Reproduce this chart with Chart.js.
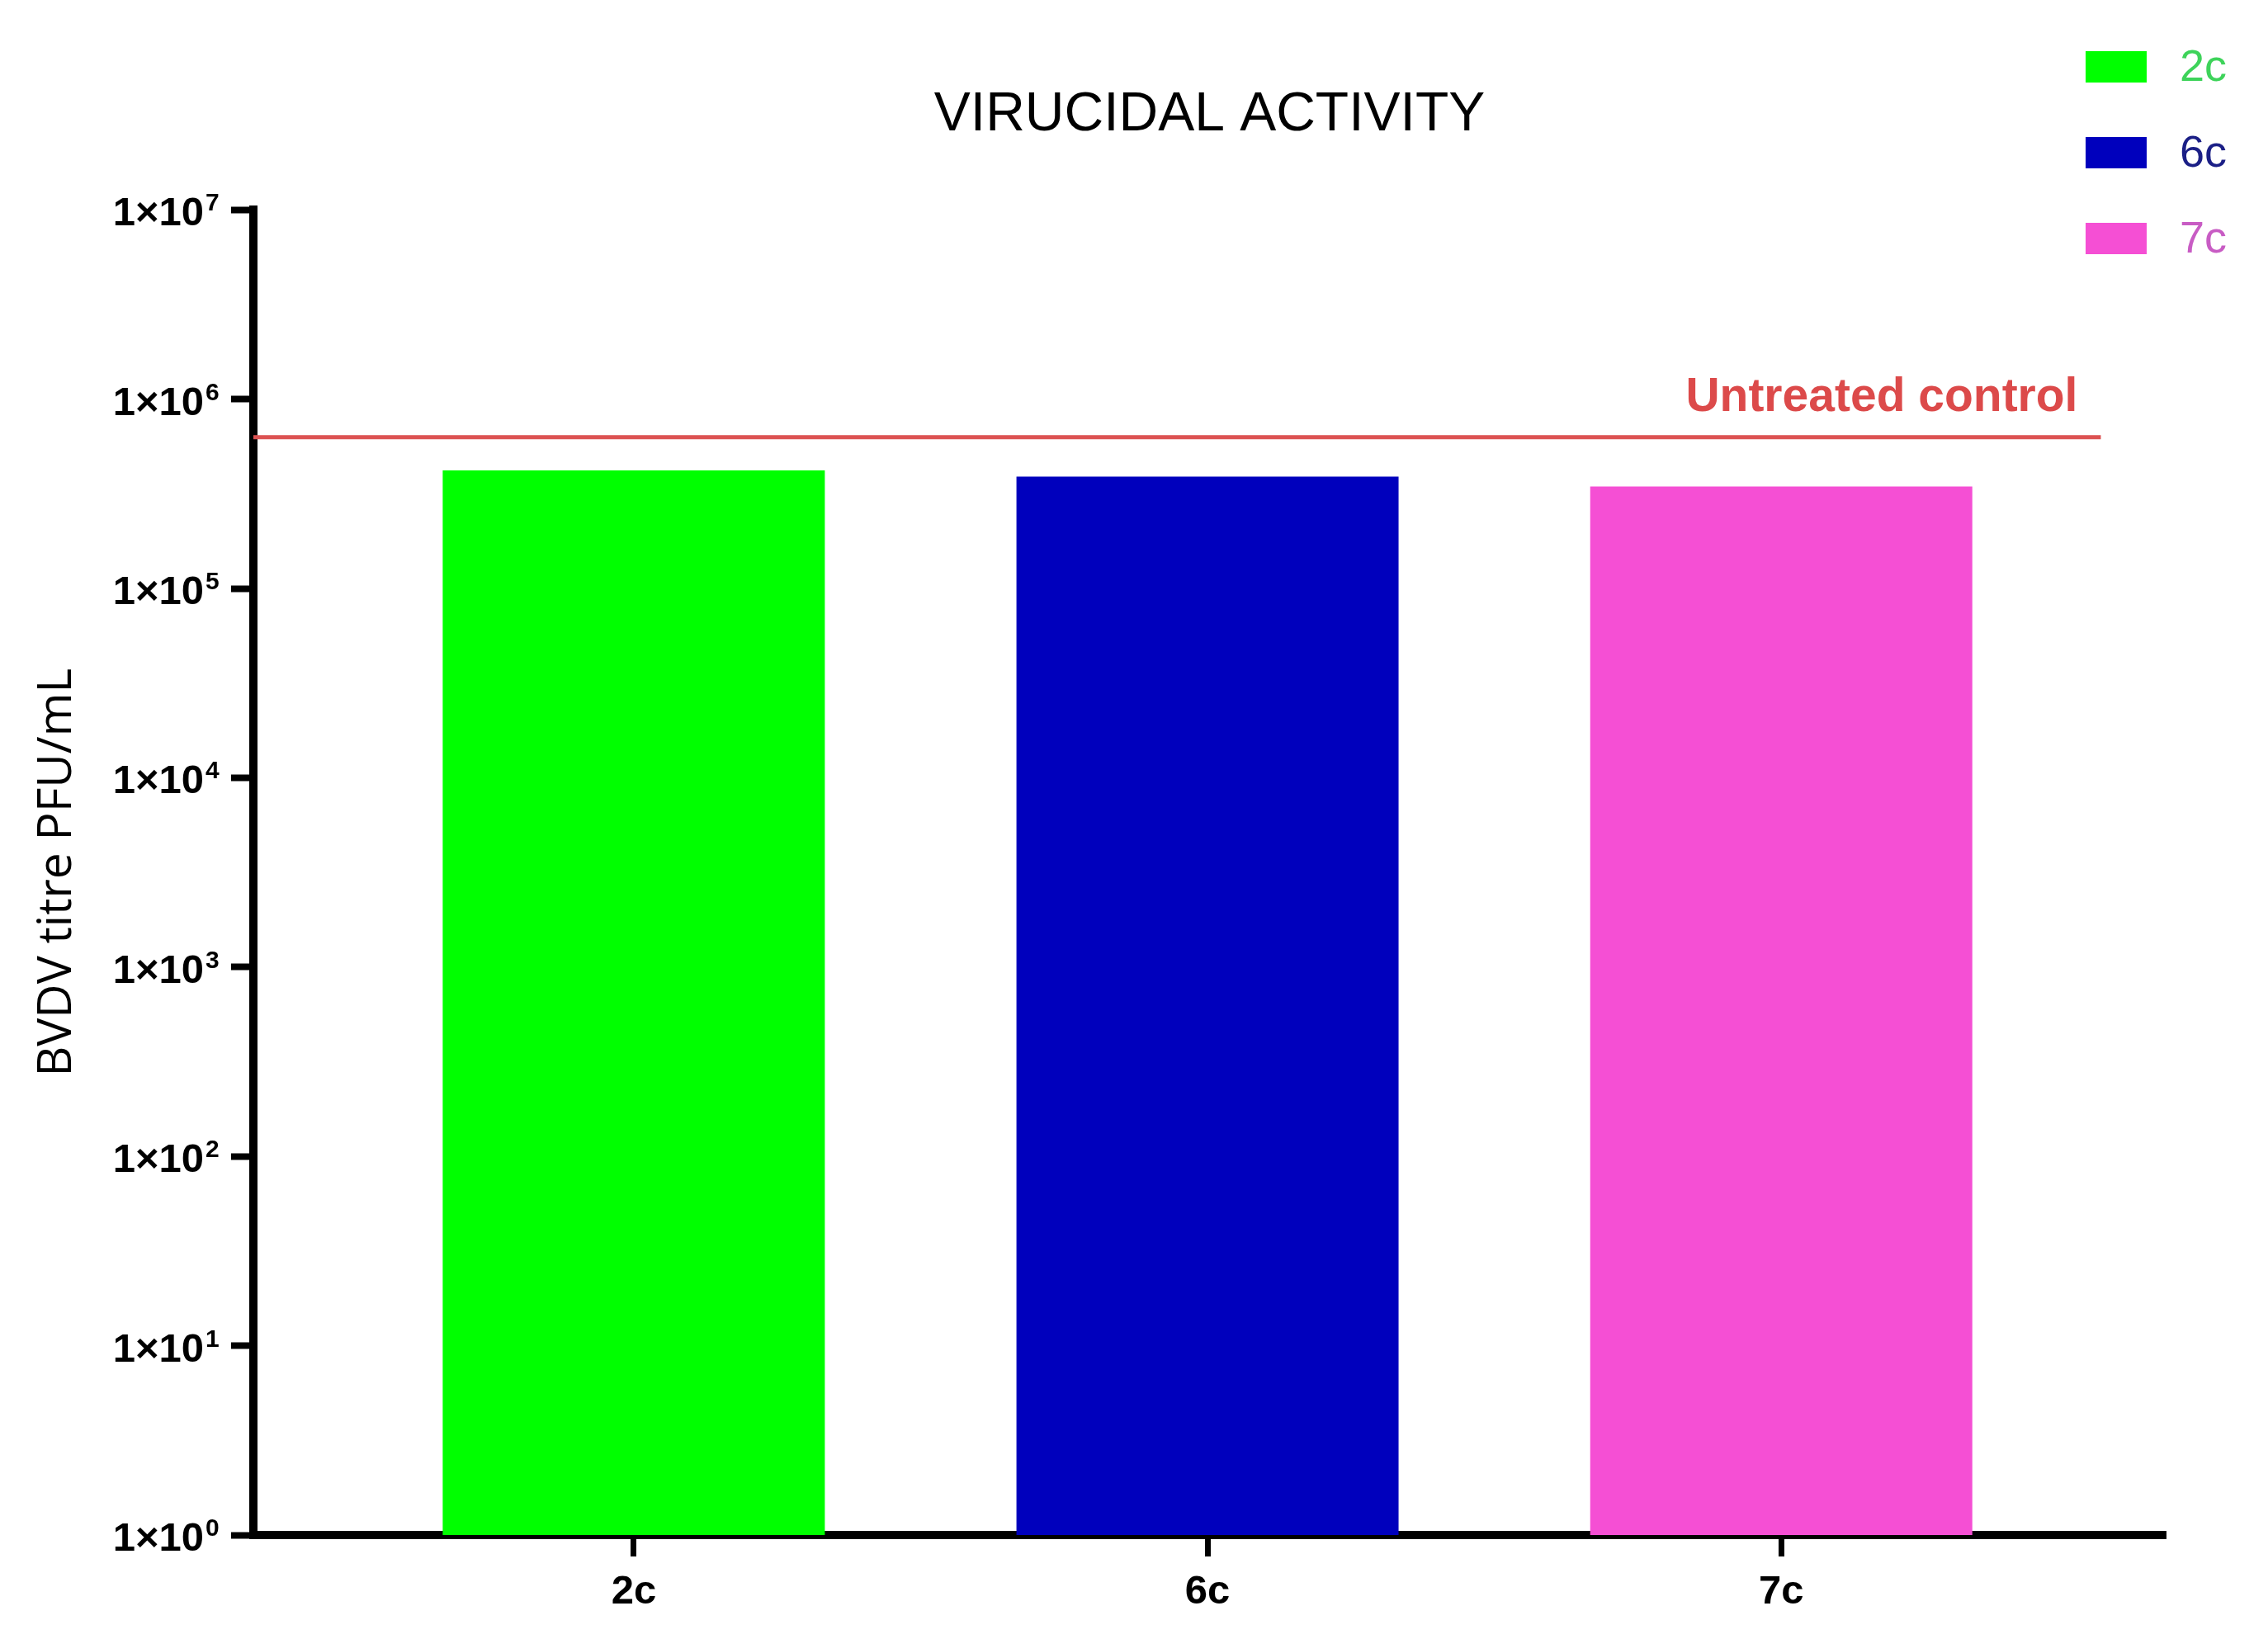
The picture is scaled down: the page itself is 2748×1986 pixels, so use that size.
<!DOCTYPE html>
<html>
<head>
<meta charset="utf-8">
<title>Virucidal activity</title>
<script src="https://cdn.jsdelivr.net/npm/chart.js@4.4.1/dist/chart.umd.min.js"></script>
<style>
    html, body { margin: 0; padding: 0; background: #fff; }
    #wrap { width: 2748px; height: 1986px; }
</style>
</head>
<body>
<div id="wrap"><canvas id="chart"></canvas></div>
<script>
// Values
const categories = ['2c', '6c', '7c'];
const titres = [4.2e5, 3.9e5, 3.45e5];
const controlTitre = 6.3e5;
const controlLabel = 'Untreated control';
const barColors = ['#00ff00', '#0000bd', '#f54fd4'];
const legendTextColors = ['#3ed35a', '#1b1f86', '#c85cc4'];
const yTicks = [1, 1e1, 1e2, 1e3, 1e4, 1e5, 1e6, 1e7];
const yTickBase = '1×10';
const yTickExponents = ['0', '1', '2', '3', '4', '5', '6', '7'];

// x range of the category axis (a bit of room on both sides, like the original)
const xMin = -0.663;
const xMax = 2.67;
const controlEnd = 2.557;

const FONT = '"Liberation Sans", Arial, sans-serif';

// Tick labels with real superscripts, control label and legend
const overlay = {
    id: 'overlay',
    afterDatasetsDraw(chart) {
        const { ctx, scales: { x, y } } = chart;
        ctx.save();

        // y tick labels: 1×10^n
        ctx.fillStyle = '#000';
        ctx.textBaseline = 'alphabetic';
        yTicks.forEach((v, i) => {
            const ty = y.getPixelForValue(v);
            ctx.font = 'bold 49px ' + FONT;
            ctx.textAlign = 'right';
            ctx.fillText(yTickBase, y.right - 60, ty + 19);
            ctx.font = 'bold 30px ' + FONT;
            ctx.textAlign = 'left';
            ctx.fillText(yTickExponents[i], y.right - 58, ty + 1);
        });

        // label above the untreated control line
        ctx.font = 'bold 57px ' + FONT;
        ctx.fillStyle = '#dc4a4a';
        ctx.textAlign = 'right';
        ctx.textBaseline = 'middle';
        ctx.fillText(controlLabel, x.getPixelForValue(controlEnd) - 28, y.getPixelForValue(controlTitre) - 47);

        // legend in the top right corner
        ctx.font = '54px ' + FONT;
        ctx.textAlign = 'left';
        categories.forEach((c, i) => {
            const cy = 81 + i * 104;
            ctx.fillStyle = barColors[i];
            ctx.fillRect(2527, cy - 19, 74, 38);
            ctx.fillStyle = legendTextColors[i];
            ctx.fillText(c, 2641, cy + 2);
        });

        ctx.restore();
    }
};

const ctx = document.getElementById('chart').getContext('2d');

new Chart(ctx, {
    data: {
        datasets: [
            {
                type: 'bar',
                label: 'Titre',
                data: titres.map((v, i) => ({ x: i, y: v })),
                backgroundColor: barColors,
                borderWidth: 0,
                barPercentage: 0.666,
                categoryPercentage: 1,
                order: 2
            },
            {
                type: 'line',
                label: controlLabel,
                data: [{ x: xMin, y: controlTitre }, { x: controlEnd, y: controlTitre }],
                borderColor: '#dc5252',
                borderWidth: 5,
                pointRadius: 0,
                order: 1
            }
        ]
    },
    options: {
        responsive: true,
        maintainAspectRatio: false,
        animation: false,
        layout: {
            padding: { top: 0, right: 124, bottom: 0, left: 0 }
        },
        plugins: {
            legend: { display: false },
            tooltip: { enabled: false },
            title: {
                display: true,
                text: 'VIRUCIDAL ACTIVITY',
                fullSize: false,
                color: '#000',
                font: { family: FONT, size: 66, weight: 'normal' },
                padding: { top: 100, bottom: 75 }
            }
        },
        scales: {
            x: {
                type: 'linear',
                min: xMin,
                max: xMax,
                offset: false,
                afterFit: scale => { scale.height = 126; },
                afterBuildTicks: scale => {
                    scale.ticks = categories.map((c, i) => ({ value: i }));
                },
                grid: {
                    offset: false,
                    drawOnChartArea: false,
                    drawTicks: true,
                    tickLength: 26,
                    tickWidth: 7,
                    tickColor: '#000'
                },
                border: { display: true, color: '#000', width: 10 },
                ticks: {
                    callback: (v, i) => categories[i],
                    color: '#000',
                    padding: 14,
                    font: { family: FONT, size: 49, weight: 'bold' }
                }
            },
            y: {
                type: 'logarithmic',
                min: 1,
                max: 1e7,
                afterFit: scale => { scale.width = 307; },
                afterBuildTicks: scale => {
                    scale.ticks = yTicks.map(v => ({ value: v }));
                },
                grid: {
                    drawOnChartArea: false,
                    drawTicks: true,
                    tickLength: 27,
                    tickWidth: 8,
                    tickColor: '#000'
                },
                border: { display: true, color: '#000', width: 10 },
                ticks: { display: false },
                title: {
                    display: true,
                    text: 'BVDV titre PFU/mL',
                    color: '#000',
                    padding: { top: 36, bottom: 0 },
                    font: { family: '"Open Sans", sans-serif', size: 57, weight: 'normal' }
                }
            }
        }
    },
    plugins: [overlay]
});
</script>
</body>
</html>
